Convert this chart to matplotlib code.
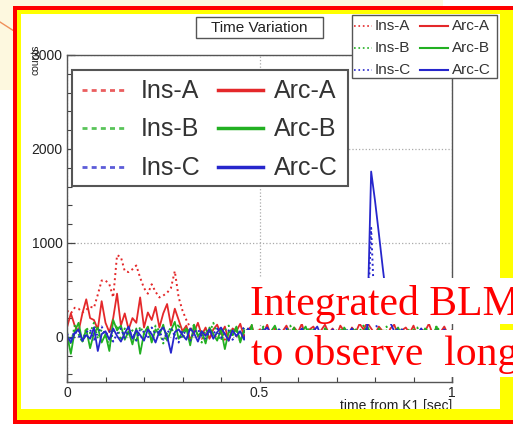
import matplotlib
matplotlib.use('Agg')
import matplotlib.pyplot as plt
import numpy as np
from matplotlib.patches import Rectangle
from matplotlib.ticker import MultipleLocator

plt.rcParams['font.family'] = ['Liberation Sans', 'DejaVu Sans']

# ---------------- data ----------------
time = np.round(np.arange(101) * 0.01, 2)

ins_a = [280, 250, 310, 300, 260, 290, 320, 310, 450, 600,
         600, 560, 420, 870, 850, 700, 690, 720, 760, 630,
         520, 460, 560, 480, 420, 440, 470, 520, 700, 420,
         280, 180, 100, 40, 10, -20, 30, 60, -10, 20,
         50, -30, 40, 80, 10, -40, 60, 20, -10, 30,
         40, -20, 10, 60, 0, -30, 50, 20, -10, 40,
         10, 70, -20, 30, 50, -10, 20, 40, -30, 10,
         60, 20, -10, 40, 30, -20, 50, 10, 60, 30,
         -10, 40, 20, 50, -20, 30, 10, 60, 0, 20,
         40, -10, 30, 50, 10, -30, 20, 40, 60, 10,
         20]
arc_a = [100, 250, 120, 60, 250, 400, 200, 180, 80, 380,
         150, 50, 200, 460, 120, 250, 80, 200, 150, 420,
         100, 260, 180, 320, 100, 250, 350, 120, 300, 180,
         60, 120, -30, 50, 150, 20, 100, -20, 80, 130,
         30, 110, -40, 90, 60, 140, 0, 70, 120, -30,
         80, 40, 130, 10, 90, -20, 60, 120, 30, 100,
         50, 140, -10, 80, 110, 20, 70, 130, 40, 90,
         10, 120, 60, -20, 100, 50, 140, 80, 150, 90,
         30, 110, 60, 0, 90, 130, 20, 70, 100, 40,
         120, 10, 80, 60, 140, 30, 90, 50, 110, 20,
         70]
ins_b = [50, -80, 120, 30, -60, 100, 40, 150, -20, 80,
         20, -100, 60, 130, -40, 90, 10, 70, -50, 110,
         30, 80, -30, 120, 60, -70, 40, 100, 20, 140,
         -20, 90, 50, 130, 10, -60, 80, 40, 150, 30,
         -40, 70, 120, 20, 60, -30, 100, 50, -10, 80,
         40, 110, -20, 70, 30, 90, -50, 60, 120, 10,
         80, -30, 50, 100, 20, 70, -40, 90, 30, 60,
         10, 80, 50, -20, 100, 40, 60, 120, 90, 30,
         -30, 70, 40, 110, 20, 60, -10, 90, 50, 80,
         30, 100, -20, 60, 80, 10, 120, 40, 70, 20,
         50]
arc_b = [20, -180, 60, 150, -50, 80, -120, 40, 100, -60,
         30, -150, 180, 70, 120, -30, 60, -80, 90, -180,
         40, 110, -60, 80, 20, 130, -40, 70, 160, -20,
         50, 90, -90, 130, 10, 60, -70, 100, 30, -40,
         80, -130, 60, 20, 110, -60, 70, -20, 130, -150,
         40, 90, -50, 60, 120, 10, -80, 70, 30, 100,
         -40, 60, 110, -20, 80, 30, -60, 90, 50, 10,
         70, -30, 100, 40, -50, 80, 20, 60, 110, 30,
         -20, 90, 40, 70, -60, 50, 100, 10, 60, -30,
         80, 30, -40, 90, 50, 20, 110, -20, 60, 40,
         30]
ins_c = [30, -20, 60, 10, -40, 50, 80, -30, 40, 110,
         20, 70, -50, 30, 90, -10, 60, 20, -40, 80,
         50, -20, 100, 30, 60, -30, 40, 90, 10, -60,
         70, 20, -40, 50, 80, 10, -20, 60, 30, 90,
         -10, 40, 70, -30, 20, 60, 100, 0, 50, -20,
         30, 80, -40, 60, 10, 50, -10, 90, 20, 40,
         70, -20, 30, 60, 10, -30, 80, 40, 20, 50,
         -10, 60, 30, 80, 20, 40, -20, 50, 80, 1160,
         150, 60, 20, 70, -10, 40, 90, 30, 60, 10,
         50, -20, 70, 40, 10, 80, 30, 60, -10, 40,
         20]
arc_c = [10, -60, 40, 80, -40, 20, -20, 100, -150, 30,
         60, -30, 90, 10, -50, 40, 110, -20, 70, 20,
         -40, 80, 30, -60, 60, 100, 10, -170, 50, 80,
         20, -30, 90, 40, -50, 60, 10, 80, -20, 50,
         100, 30, -40, 70, 10, 60, -30, 90, 40, 20,
         -20, 60, 100, 30, -40, 80, 50, 10, 70, -30,
         40, 90, 20, -30, 60, 110, 10, 50, -20, 80,
         30, -10, 70, 40, 90, 20, 60, 30, 100, 1760,
         1450, 1100, 740, 400, 150, 60, 20, 80, 40, -10,
         60, 30, 90, 10, 50, -20, 70, 40, 80, 20,
         50]

series_names = ['Ins-A', 'Arc-A', 'Ins-B', 'Arc-B', 'Ins-C', 'Arc-C']
series_values = [ins_a, arc_a, ins_b, arc_b, ins_c, arc_c]
x_tick_values = [0, 0.5, 1]
x_tick_labels = ['0', '0.5', '1']
y_tick_values = [0, 1000, 2000, 3000]

RED, GREEN, BLUE = '#e4282a', '#22b022', '#2626cc'
series_colors = [RED, RED, GREEN, GREEN, BLUE, BLUE]

W, H = 513, 425
fig = plt.figure(figsize=(W / 100, H / 100), dpi=100, facecolor='white')

# ---------------- background ----------------
bg = fig.add_axes([0, 0, 1, 1], zorder=0)
bg.set_xlim(0, W); bg.set_ylim(H, 0); bg.axis('off')
bg.add_patch(Rectangle((0, 0), 443, 90, facecolor='#fdf8df', edgecolor='none'))
bg.add_patch(Rectangle((17, 10), 490, 410, facecolor='white', edgecolor='none'))
bg.plot([0, 14], [22, 31], color='#f0905a', lw=1)

# ---------------- main plot ----------------
ax = fig.add_axes([67 / W, (H - 382) / H, 385 / W, 327 / H], zorder=1)
ax.set_facecolor('none')
for name, vals, col in zip(series_names, series_values, series_colors):
    if name.startswith('Ins'):
        ax.plot(time, vals, color=col, ls=':', lw=1.4)
    else:
        ax.plot(time, vals, color=col, ls='-', lw=1.3)
ax.set_xlim(0, 1)
ax.set_ylim(-480, 3000)
ax.set_xticks(x_tick_values)
ax.set_xticklabels(x_tick_labels)
ax.set_yticks(y_tick_values)
ax.xaxis.set_minor_locator(MultipleLocator(0.1))
ax.yaxis.set_minor_locator(MultipleLocator(200))
ax.tick_params(which='both', direction='in', colors='#444', labelcolor='#222',
               labelsize=10, pad=3)
ax.tick_params(which='major', length=6, width=0.9)
ax.tick_params(which='minor', length=3.5, width=0.8)
ax.grid(True, which='major', ls=':', color='#aaaaaa', lw=0.9)
for sp in ax.spines.values():
    sp.set_color('#555555'); sp.set_linewidth(1.0)
ax.set_xlabel('time from K1 [sec]', loc='right', fontsize=10, color='#222')
ax.xaxis.set_label_coords(1.0, -0.052)
ax.set_ylabel('counts', loc='top', fontsize=7.5, color='#222')
ax.yaxis.set_label_coords(-0.07, 1.031)

# ---------------- overlay ----------------
ov = fig.add_axes([0, 0, 1, 1], zorder=3)
ov.set_xlim(0, W); ov.set_ylim(H, 0); ov.axis('off')
ov.patch.set_alpha(0)


def rect(x0, y0, x1, y1, fc, ec='none', lw=0.0):
    ov.add_patch(Rectangle((x0, y0), x1 - x0, y1 - y0, facecolor=fc,
                           edgecolor=ec, lw=lw))


FR, FY = '#ff0000', '#ffff00'
rect(13, 6, 513, 10, FR); rect(13, 6, 17, 424, FR); rect(13, 420, 513, 424, FR)
rect(17, 10, 513, 14, FY); rect(17, 10, 21, 420, FY)
rect(17, 409, 513, 420, FY); rect(500, 10, 513, 420, FY)

# title box
rect(196, 17, 323, 38, 'white', ec='#555555', lw=1.0)
ov.text(259.5, 27.5, 'Time Variation', ha='center', va='center', fontsize=11, color='#222')

# small legend
rect(352, 15, 497, 78, 'white', ec='#555555', lw=1.0)
for i, ry in enumerate([26, 48, 70]):
    ins, arc = series_names[2 * i], series_names[2 * i + 1]
    col = series_colors[2 * i]
    ov.plot([354, 372], [ry, ry], color=col, ls=':', lw=1.2)
    ov.text(375, ry, ins, va='center', fontsize=11, color='#333')
    ov.plot([420, 448], [ry, ry], color=col, ls='-', lw=1.5)
    ov.text(452, ry, arc, va='center', fontsize=11, color='#333')

# big legend
rect(72, 70, 348, 186, 'white', ec='#555555', lw=1.5)
for i, ry in enumerate([90, 128, 167]):
    ins, arc = series_names[2 * i], series_names[2 * i + 1]
    col = series_colors[2 * i]
    ov.plot([82, 127], [ry, ry], color=col, ls=(0, (1.8, 1.5)), lw=2, alpha=0.75)
    ov.text(141, ry + 1, ins, va='center', fontsize=18, color='#333')
    ov.plot([218, 263], [ry, ry], color=col, ls='-', lw=2.5)
    ov.text(274, ry + 1, arc, va='center', fontsize=18, color='#333')

# overlaid slide text
rect(245, 278, 513, 324, 'white')
rect(245, 330, 513, 377, 'white')
ov.text(250, 315, 'Integrated BLM', family='Liberation Serif', fontsize=30,
        color='#ff0000', va='baseline', ha='left')
ov.text(251, 365, 'to observe  long', family='Liberation Serif', fontsize=30,
        color='#ff0000', va='baseline', ha='left')

fig.savefig('out.png', dpi=100, facecolor='white')
